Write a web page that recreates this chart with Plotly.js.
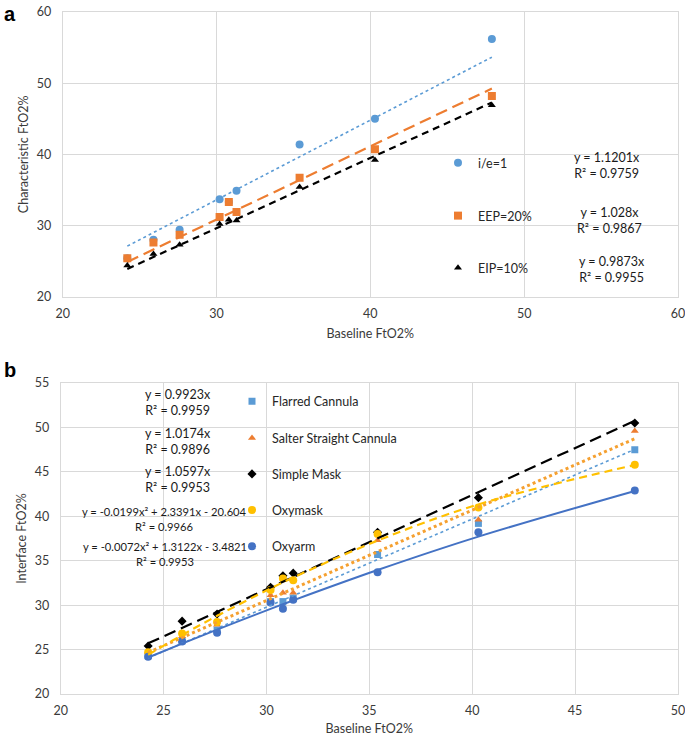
<!DOCTYPE html>
<html><head><meta charset="utf-8">
<script src="https://cdn.plot.ly/plotly-3.0.1.min.js"></script>
<style>html,body{margin:0;padding:0;background:#fff}#chart{width:685px;height:736px}</style>
</head><body><div id="chart"></div>
<script>
// ---------- Panel a data ----------
const baselineA = [24.2, 25.9, 27.6, 30.2, 30.8, 31.3, 35.4, 40.3, 47.9];
const ieRatio1  = [25.4, 28.0, 29.4, 33.7, 33.3, 34.9, 41.4, 45.0, 56.2];
const eep20     = [25.4, 27.6, 28.7, 31.2, 33.3, 31.9, 36.7, 40.7, 48.2];
const eip10     = [24.4, 26.0, 27.3, 30.2, 30.8, 30.7, 35.4, 39.2, 46.9];
const namesA    = ['i/e=1', 'EEP=20%', 'EIP=10%'];
const slopesA   = [1.1201, 1.028, 0.9873];
const eqTextA   = ['y = 1.1201x<br>R² = 0.9759', 'y = 1.028x<br>R² = 0.9867', 'y = 0.9873x<br>R² = 0.9955'];

// ---------- Panel b data ----------
const baselineB = [24.25, 25.9, 27.6, 30.2, 30.8, 31.3, 35.4, 40.3, 47.9];
const flarred   = [24.3, 26.0, 27.2, 30.4, 30.4, 30.8, 35.7, 39.2, 47.5];
const salter    = [24.7, 26.5, 27.8, 31.1, 31.4, 31.4, 37.3, 39.6, 49.6];
const simpleMask= [25.4, 28.2, 29.0, 32.0, 33.3, 33.6, 38.2, 42.1, 50.5];
const oxymask   = [24.7, 26.8, 28.1, 31.7, 33.0, 32.8, 38.0, 41.0, 45.8];
const oxyarm    = [24.2, 25.9, 26.9, 30.3, 29.6, 30.6, 33.7, 38.2, 42.9];
const namesB    = ['Flarred Cannula', 'Salter Straight Cannula', 'Simple Mask', 'Oxymask', 'Oxyarm'];
const linSlopesB = [0.9923, 1.0174, 1.0597];
const quadCoefOxymask = [-0.0199, 2.3391, -20.604];
const quadCoefOxyarm  = [-0.0072, 1.3122, -3.4821];
const eqTextB = [
  'y = 0.9923x<br>R² = 0.9959',
  'y = 1.0174x<br>R² = 0.9896',
  'y = 1.0597x<br>R² = 0.9953',
  'y = -0.0199x² + 2.3391x - 20.604<br>R² = 0.9966',
  'y = -0.0072x² + 1.3122x - 3.4821<br>R² = 0.9953'
];

// ---------- helpers ----------
const W = 685, H = 736;
const px = v => v / W;
const py = v => 1 - v / H;
function linTrend(xs, m) {
  const lo = Math.min(...xs), hi = Math.max(...xs);
  return {x: [lo, hi], y: [m * lo, m * hi]};
}
function quadTrend(xs, c) {
  const s = [...xs].sort((a, b) => a - b);
  return {x: s, y: s.map(x => c[0] * x * x + c[1] * x + c[2])};
}

const FONT = 'Lato, "Open Sans", sans-serif';
const cBlueL = '#5B9BD5', cOrange = '#ED7D31', cBlack = '#000000', cYellow = '#FFC000', cBlue = '#4472C4';

const traces = [];
// Panel a trendlines
const trendStyleA = [
  {color: cBlueL, width: 1.6, dash: 'dot'},
  {color: cOrange, width: 2.2, dash: '12px,6px'},
  {color: cBlack, width: 2.2, dash: '7px,5px'}
];
const seriesA = [ieRatio1, eep20, eip10];
const markerA = [
  {symbol: 'circle', size: 8, color: cBlueL},
  {symbol: 'square', size: 8, color: cOrange},
  {symbol: 'triangle-up', size: 7, color: '#000000'}
];
seriesA.forEach((ys, i) => {
  const t = linTrend(baselineA, slopesA[i]);
  traces.push({x: t.x, y: t.y, xaxis: 'x', yaxis: 'y', mode: 'lines', line: trendStyleA[i], showlegend: false, hoverinfo: 'skip'});
});
seriesA.forEach((ys, i) => {
  traces.push({x: baselineA, y: ys, xaxis: 'x', yaxis: 'y', mode: 'markers', name: namesA[i],
    marker: markerA[i], legend: 'legend' + (i === 0 ? '' : (i + 1))});
});

// Panel b trendlines
const seriesB = [flarred, salter, simpleMask, oxymask, oxyarm];
const trendB = [
  linTrend(baselineB, linSlopesB[0]),
  linTrend(baselineB, linSlopesB[1]),
  linTrend(baselineB, linSlopesB[2]),
  quadTrend(baselineB, quadCoefOxymask),
  quadTrend(baselineB, quadCoefOxyarm)
];
const trendStyleB = [
  {color: cBlueL, width: 1.6, dash: 'dot'},
  {color: '#F5A030', width: 3, dash: 'dot'},
  {color: cBlack, width: 2.2, dash: '12px,6px'},
  {color: cYellow, width: 2.2, dash: '8px,5px', shape: 'spline'},
  {color: cBlue, width: 2, shape: 'spline'}
];
const markerB = [
  {symbol: 'square', size: 7, color: cBlueL},
  {symbol: 'triangle-up', size: 7, color: cOrange},
  {symbol: 'diamond', size: 7, color: '#000000'},
  {symbol: 'circle', size: 8, color: cYellow},
  {symbol: 'circle', size: 8, color: cBlue}
];
seriesB.forEach((ys, i) => {
  traces.push({x: baselineB, y: ys, xaxis: 'x2', yaxis: 'y2', mode: 'markers', name: namesB[i],
    marker: markerB[i], legend: 'legend' + (i + 4)});
});
trendB.forEach((t, i) => {
  traces.push({x: t.x, y: t.y, xaxis: 'x2', yaxis: 'y2', mode: 'lines', line: trendStyleB[i], showlegend: false, hoverinfo: 'skip'});
});

// axes
const gridC = '#D9D9D9';
const tickF = {family: FONT, size: 12.5, color: '#3a3a3a'};
const titleF = {family: FONT, size: 12.5, color: '#3a3a3a'};
function ax(extra) {
  return Object.assign({
    showgrid: true, gridcolor: gridC, gridwidth: 1, zeroline: false,
    showline: true, linecolor: gridC, linewidth: 1, mirror: true,
    ticks: '', tickfont: tickF, fixedrange: true, ticklabeloverflow: 'allow'
  }, extra);
}

// legends: positions of text start (px) and center y (px)
const legPosA = [[478, 163], [478, 216], [478, 268]];
const legPosB = [[272, 401.7], [272, 438.3], [272, 474.3], [272, 510.3], [272, 546.7]];
const legends = {};
[...legPosA, ...legPosB].forEach((p, i) => {
  const key = 'legend' + (i === 0 ? '' : (i + 1));
  legends[key] = {
    x: px(p[0] - 40), y: py(p[1]), xanchor: 'left', yanchor: 'middle',
    bgcolor: 'rgba(0,0,0,0)', borderwidth: 0,
    font: {family: FONT, size: 12.5, color: '#262626'}
  };
});

const annotations = [];
const eqPosA = [[607, 165], [609, 220], [612, 269]];
eqTextA.forEach((t, i) => annotations.push({text: t, xref: 'paper', yref: 'paper',
  x: px(eqPosA[i][0]), y: py(eqPosA[i][1]), xanchor: 'center', yanchor: 'middle', align: 'center',
  showarrow: false, font: {family: FONT, size: 12.5, color: '#1a1a1a'}}));
const eqPosB = [[178, 402.5], [178, 441.7], [178, 479.5], [164.5, 518.8], [165.4, 553.5]];
const eqSizeB = [12.5, 12.5, 12.5, 11.2, 11.2];
eqTextB.forEach((t, i) => annotations.push({text: t, xref: 'paper', yref: 'paper',
  x: px(eqPosB[i][0]), y: py(eqPosB[i][1]), xanchor: 'center', yanchor: 'middle', align: 'center',
  showarrow: false, font: {family: FONT, size: eqSizeB[i], color: '#1a1a1a'}}));
annotations.push({text: '<b>a</b>', xref: 'paper', yref: 'paper', x: px(2), y: py(1), xanchor: 'left', yanchor: 'top',
  showarrow: false, font: {family: 'Liberation Sans, Arial, sans-serif', size: 20, color: '#000'}});
annotations.push({text: '<b>b</b>', xref: 'paper', yref: 'paper', x: px(2), y: py(357), xanchor: 'left', yanchor: 'top',
  showarrow: false, font: {family: 'Liberation Sans, Arial, sans-serif', size: 20, color: '#000'}});

const layout = Object.assign({
  width: W, height: H,
  margin: {l: 0, r: 0, t: 0, b: 0},
  paper_bgcolor: '#fff', plot_bgcolor: '#fff',
  font: {family: FONT},
  xaxis: ax({domain: [px(62.7), px(678)], range: [20, 60], dtick: 10, tick0: 20, anchor: 'y',
    ticklabelstandoff: 5, title: {text: 'Baseline FtO2%', font: titleF, standoff: 9}}),
  yaxis: ax({domain: [py(296.7), py(12)], range: [20, 60], dtick: 10, tick0: 20, anchor: 'x',
    ticklabelstandoff: 8, title: {text: 'Characteristic FtO2%', font: titleF, standoff: 5}}),
  xaxis2: ax({domain: [px(60.7), px(678)], range: [20, 50], dtick: 5, tick0: 20, anchor: 'y2',
    ticklabelstandoff: 5, title: {text: 'Baseline FtO2%', font: titleF, standoff: 10}}),
  yaxis2: ax({domain: [py(694), py(383)], range: [20, 55], dtick: 5, tick0: 20, anchor: 'x2',
    ticklabelstandoff: 8, title: {text: 'Interface FtO2%', font: titleF, standoff: 5}}),
  annotations: annotations,
  showlegend: true
}, legends);

Plotly.newPlot('chart', traces, layout, {displayModeBar: false, staticPlot: true});
</script>
</body></html>
